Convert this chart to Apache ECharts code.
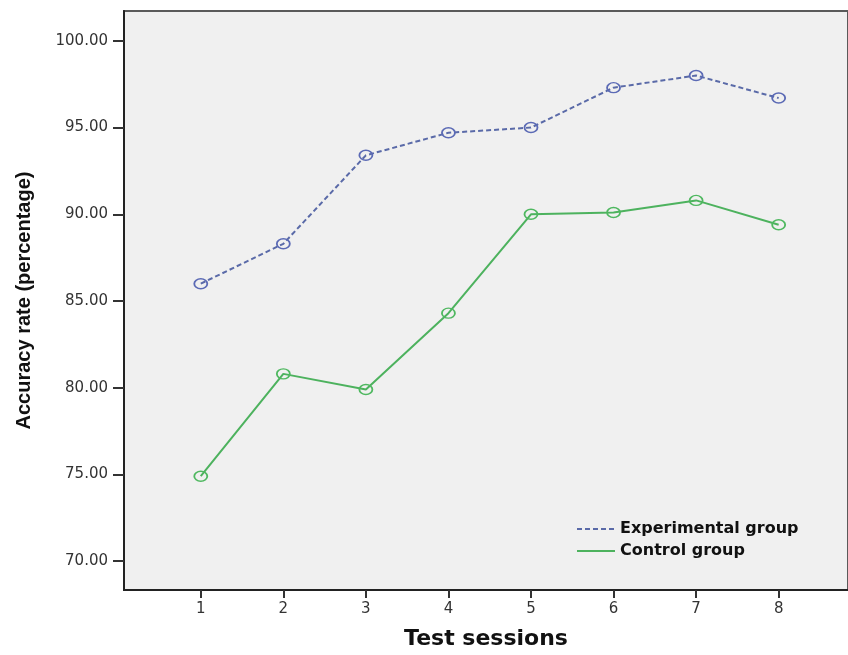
<!DOCTYPE html>
<html>
<head>
<meta charset="utf-8">
<script src="https://cdn.jsdelivr.net/npm/echarts@6/dist/echarts.min.js"></script>
<style>
  html, body { margin: 0; padding: 0; background: #ffffff; }
  #chart { width: 848px; height: 655px; }
</style>
</head>
<body>
<div id="chart"></div>
<script>
// Test sessions and mean accuracy (%) per group
const sessions = [1, 2, 3, 4, 5, 6, 7, 8];
const experimental = [86.0, 88.3, 93.4, 94.7, 95.0, 97.3, 98.0, 96.7];
const control = [74.9, 80.8, 79.9, 84.3, 90.0, 90.1, 90.8, 89.4];
const yTicks = [70, 75, 80, 85, 90, 95, 100];
const xTicks = sessions;

const chart = echarts.init(document.getElementById('chart'));

const pairs = (vals) => sessions.map((s, i) => [s, vals[i]]);

chart.setOption({
  animation: false,
  backgroundColor: '#ffffff',
  grid: {
    left: 124, top: 11, right: -3, bottom: 62,
    show: true,
    backgroundColor: '#f0f0f0',
    borderColor: '#5a5a5a',
    borderWidth: 2
  },
  legend: {
    orient: 'vertical',
    left: 571, top: 516,
    itemWidth: 38, itemHeight: 12, itemGap: 6,
    itemStyle: { opacity: 0 },
    textStyle: { fontFamily: 'DejaVu Sans', fontWeight: 'bold', fontSize: 16, color: '#111111' },
    data: ['Experimental group', 'Control group']
  },
  xAxis: {
    type: 'value',
    min: 0.07, max: 8.84,
    name: 'Test sessions',
    nameLocation: 'middle',
    nameGap: 38,
    nameTextStyle: { fontFamily: 'DejaVu Sans', fontWeight: 'bold', fontSize: 22, color: '#111111' },
    axisLine: { show: true, onZero: false, lineStyle: { color: '#222222', width: 2 } },
    axisTick: { show: true, customValues: xTicks, length: 8, lineStyle: { color: '#333333', width: 2 } },
    axisLabel: { customValues: xTicks, fontFamily: 'DejaVu Sans', fontSize: 15, color: '#333333', margin: 12 },
    splitLine: { show: false }
  },
  yAxis: {
    type: 'value',
    min: 68.34, max: 101.72,
    name: 'Accuracy rate (percentage)',
    nameLocation: 'middle',
    nameRotate: 90,
    nameGap: 90,
    nameTextStyle: { fontFamily: 'Liberation Sans', fontWeight: 'bold', fontSize: 20, color: '#111111' },
    axisLine: { show: true, onZero: false, lineStyle: { color: '#222222', width: 2 } },
    axisTick: { show: true, customValues: yTicks, length: 11, lineStyle: { color: '#333333', width: 2 } },
    axisLabel: {
      customValues: yTicks,
      formatter: (v) => v.toFixed(2),
      fontFamily: 'DejaVu Sans', fontSize: 15, color: '#333333', margin: 16
    },
    splitLine: { show: false }
  },
  series: [
    {
      name: 'Experimental group',
      type: 'line',
      data: pairs(experimental),
      symbol: 'circle',
      symbolSize: [13, 10],
      itemStyle: { color: 'rgba(0,0,0,0)', borderColor: '#5b6ab5', borderWidth: 1.6 },
      lineStyle: { color: '#5a6aa8', width: 2, type: [5, 3] }
    },
    {
      name: 'Control group',
      type: 'line',
      data: pairs(control),
      symbol: 'circle',
      symbolSize: [13, 10],
      itemStyle: { color: 'rgba(0,0,0,0)', borderColor: '#4fb860', borderWidth: 1.6 },
      lineStyle: { color: '#4db25e', width: 2 }
    }
  ]
});
</script>
</body>
</html>
